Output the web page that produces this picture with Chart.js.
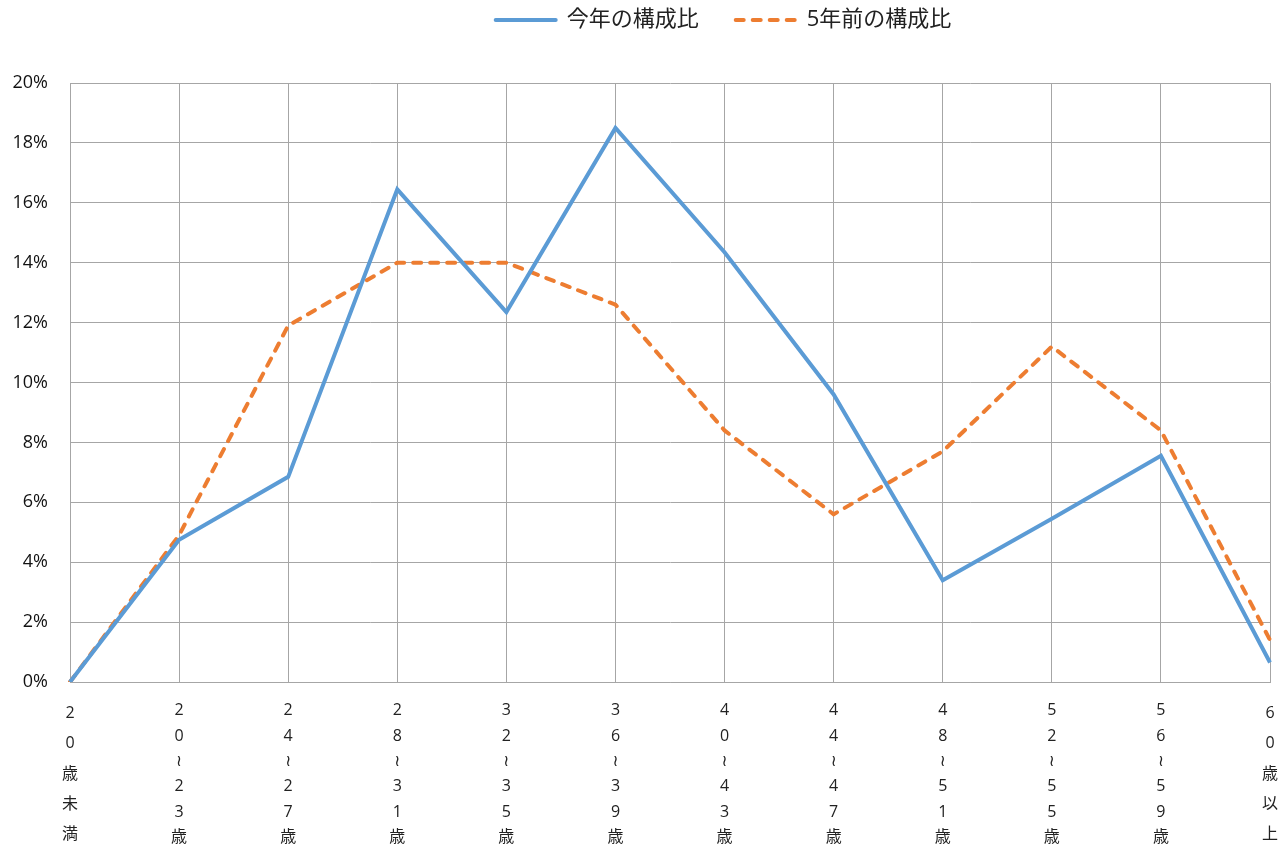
<!DOCTYPE html>
<html lang="ja">
<head>
<meta charset="UTF-8">
<title>構成比</title>
<script src="https://cdn.jsdelivr.net/npm/chart.js"></script>
<style>
  html, body { margin: 0; padding: 0; background: #fff; }
  #wrap { width: 1287px; height: 850px; }
</style>
</head>
<body>
<div id="wrap"><canvas id="chart"></canvas></div>
<script>
  // 年齢区分（縦書き表示のため1文字ずつ配列に）
  var categories = ['20歳未満', '20≀23歳', '24≀27歳', '28≀31歳', '32≀35歳', '36≀39歳',
    '40≀43歳', '44≀47歳', '48≀51歳', '52≀55歳', '56≀59歳', '60歳以上'];
  var thisYear = [0, 4.75, 6.85, 16.45, 12.35, 18.5, 14.35, 9.6, 3.4, 5.45, 7.55, 0.65];
  var fiveYearsAgo = [0, 4.9, 11.9, 14.0, 14.0, 12.6, 8.4, 5.6, 7.7, 11.2, 8.4, 1.4];
  var yTicks = [0, 2, 4, 6, 8, 10, 12, 14, 16, 18, 20];

  const font = "'Open Sans', 'DejaVu Sans', 'Noto Sans CJK JP', sans-serif";
  const ctx = document.getElementById('chart');

  // 凡例の下に余白を足し、少し右へずらす
  const legendSpace = {
    id: 'legendSpace',
    beforeInit(chart) {
      const fitOrig = chart.legend.fit;
      chart.legend.fit = function () {
        fitOrig.bind(chart.legend)();
        this.height += 42;
      };
    },
    afterLayout(chart) {
      chart.legend.left = 177;
    }
  };

  new Chart(ctx, {
    type: 'line',
    data: {
      labels: categories.map(function (c) { return c.split(''); }),
      datasets: [{
        label: '今年の構成比',
        data: thisYear,
        borderColor: '#5b9bd5',
        backgroundColor: '#5b9bd5',
        borderWidth: 4,
        pointRadius: 0,
        tension: 0
      }, {
        label: '5年前の構成比',
        data: fiveYearsAgo,
        borderColor: '#ed7d31',
        backgroundColor: '#ed7d31',
        borderWidth: 4,
        borderDash: [8, 9],
        borderCapStyle: 'round',
        pointRadius: 0,
        tension: 0
      }]
    },
    options: {
      responsive: true,
      maintainAspectRatio: false,
      animation: false,
      layout: { padding: { top: -28, right: 17, left: 0, bottom: 0 } },
      scales: {
        x: {
          offset: false,
          afterFit: function (scale) {
            scale.height = 168;
            scale.paddingLeft = 0;
            scale.paddingRight = 0;
          },
          grid: { color: '#a6a6a6', drawTicks: false },
          border: { color: '#a6a6a6' },
          ticks: {
            color: '#222',
            maxRotation: 0,
            autoSkip: false,
            padding: 16,
            font: function (c) {
              // 5文字のラベルは行間を広げて同じ高さに
              var n = categories[c.index] ? categories[c.index].length : 6;
              return { family: font, size: 16, lineHeight: n === 5 ? 1.9 : 1.5875 };
            }
          }
        },
        y: {
          min: 0,
          max: 20,
          afterFit: function (scale) { scale.width = 70; },
          afterBuildTicks: function (scale) {
            scale.ticks = yTicks.map(function (v) { return { value: v }; });
          },
          grid: { color: '#a6a6a6', drawTicks: false },
          border: { color: '#a6a6a6' },
          ticks: {
            color: '#111',
            padding: 22,
            font: { family: font, size: 18 },
            callback: function (v) { return v + '%'; }
          }
        }
      },
      plugins: {
        legend: {
          position: 'top',
          labels: {
            usePointStyle: true,
            pointStyle: 'line',
            pointStyleWidth: 60,
            boxWidth: 60,
            color: '#222',
            padding: 37,
            font: { family: font, size: 22 },
            generateLabels: function (chart) {
              var items = Chart.defaults.plugins.legend.labels.generateLabels(chart);
              items.forEach(function (it) {
                var ds = chart.data.datasets[it.datasetIndex];
                it.lineDash = ds.borderDash || [];
                it.lineWidth = ds.borderWidth;
                it.lineCap = 'round';
                it.strokeStyle = ds.borderColor;
              });
              return items;
            }
          }
        },
        tooltip: { enabled: false }
      }
    },
    plugins: [legendSpace]
  });
</script>
</body>
</html>
